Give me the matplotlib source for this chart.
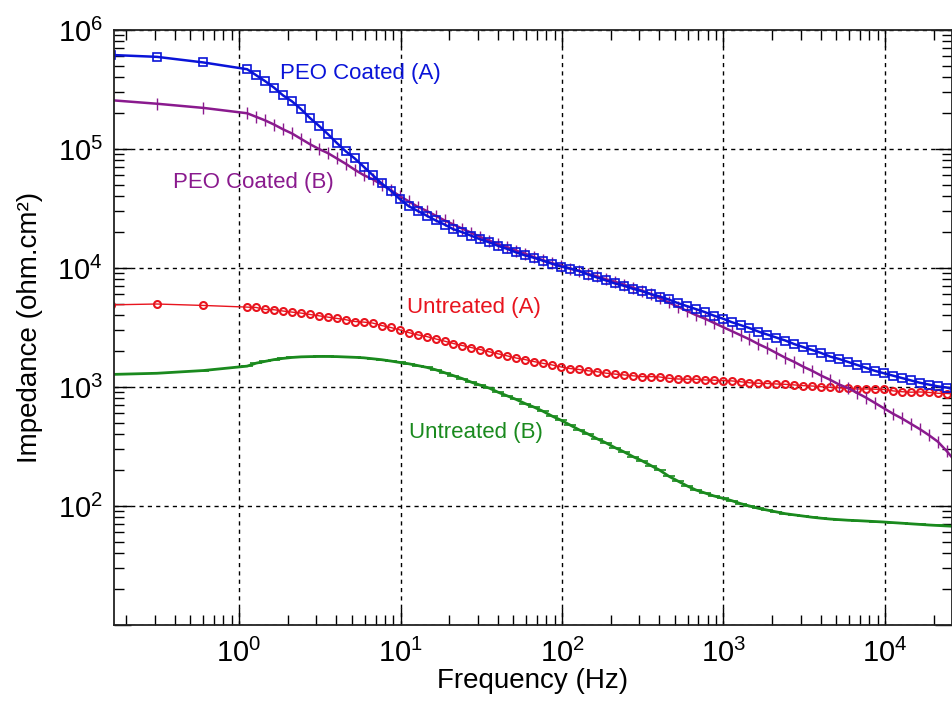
import numpy as np
import matplotlib
matplotlib.use('Agg')
import matplotlib.pyplot as plt
import matplotlib.ticker as mticker

plt.rcParams['font.family'] = ['Liberation Sans', 'DejaVu Sans']
plt.rcParams['mathtext.fontset'] = 'custom'
plt.rcParams['mathtext.rm'] = 'Liberation Sans'
plt.rcParams['mathtext.it'] = 'Liberation Sans'

# frequency sweep: 3 low points, then 18 points per decade from ~1.1 Hz
freq_low = [0.16, 0.31, 0.60]
sweep = [1.122, 1.275, 1.449, 1.647, 1.872, 2.127, 2.417, 2.747, 3.122,
         3.548, 4.033, 4.582, 5.208, 5.918, 6.726, 7.643, 8.687, 9.872]
freq = freq_low + [s * 10 ** d for d in range(4) for s in sweep] + [s * 1e4 for s in sweep[:8]]

# log10 |Z| (ohm.cm2)
peo_a = [5.79, 5.774, 5.727,
         5.67, 5.62, 5.57, 5.515, 5.45, 5.40, 5.335, 5.26, 5.195, 5.125, 5.05, 4.98, 4.92, 4.85, 4.78, 4.71, 4.65, 4.58,
         4.52, 4.48, 4.44, 4.40, 4.365, 4.325, 4.30, 4.27, 4.24, 4.215, 4.185, 4.16, 4.13, 4.105, 4.085, 4.06, 4.035, 4.012,
         3.995, 3.975, 3.945, 3.92, 3.895, 3.87, 3.85, 3.825, 3.805, 3.78, 3.76, 3.735, 3.705, 3.68, 3.655, 3.63, 3.60, 3.575,
         3.545, 3.52, 3.495, 3.465, 3.44, 3.415, 3.39, 3.36, 3.335, 3.31, 3.285, 3.255, 3.235, 3.21, 3.185, 3.16, 3.135, 3.115,
         3.095, 3.075, 3.055, 3.035, 3.02, 3.005, 2.995, 2.975]
peo_b = [5.41, 5.38, 5.345,
         5.30, 5.27, 5.24, 5.205, 5.165, 5.13, 5.085, 5.04, 5.00, 4.965, 4.92, 4.875, 4.825, 4.78, 4.745, 4.70, 4.655, 4.605,
         4.56, 4.515, 4.48, 4.44, 4.40, 4.365, 4.33, 4.295, 4.26, 4.23, 4.20, 4.175, 4.145, 4.12, 4.09, 4.065, 4.04, 4.02,
         3.995, 3.975, 3.95, 3.93, 3.905, 3.885, 3.86, 3.835, 3.81, 3.78, 3.745, 3.71, 3.675, 3.64, 3.605, 3.575, 3.54, 3.505,
         3.47, 3.435, 3.40, 3.36, 3.325, 3.285, 3.245, 3.21, 3.17, 3.135, 3.095, 3.06, 3.02, 2.99, 2.95, 2.91, 2.865, 2.82,
         2.775, 2.735, 2.69, 2.645, 2.595, 2.54, 2.46, 2.37]
untr_a = [3.69, 3.697, 3.685,
          3.671, 3.668, 3.651, 3.649, 3.638, 3.629, 3.621, 3.609, 3.598, 3.587, 3.576, 3.565, 3.55, 3.545, 3.537, 3.516, 3.50, 3.48,
          3.457, 3.438, 3.424, 3.404, 3.385, 3.365, 3.348, 3.331, 3.314, 3.295, 3.278, 3.261, 3.243, 3.23, 3.213, 3.198, 3.185, 3.168,
          3.155, 3.147, 3.136, 3.128, 3.116, 3.108, 3.101, 3.094, 3.087, 3.087, 3.084, 3.073, 3.067, 3.065, 3.065, 3.059, 3.057, 3.053,
          3.051, 3.044, 3.035, 3.031, 3.029, 3.025, 3.022, 3.017, 3.011, 3.008, 3.002, 2.997, 2.993, 2.988, 2.983, 2.983, 2.981, 2.979,
          2.967, 2.96, 2.956, 2.958, 2.954, 2.947, 2.945, 2.941]
untr_b = [3.105, 3.115, 3.138,
          3.175, 3.20, 3.215, 3.23, 3.24, 3.248, 3.253, 3.255, 3.256, 3.256, 3.255, 3.252, 3.249, 3.245, 3.237, 3.229, 3.218, 3.206,
          3.195, 3.18, 3.165, 3.145, 3.12, 3.095, 3.07, 3.04, 3.015, 2.99, 2.955, 2.925, 2.895, 2.86, 2.83, 2.795, 2.755, 2.72,
          2.68, 2.64, 2.605, 2.565, 2.53, 2.49, 2.455, 2.415, 2.38, 2.34, 2.30, 2.25, 2.21, 2.17, 2.135, 2.11, 2.085, 2.065,
          2.045, 2.02, 2.00, 1.98, 1.965, 1.95, 1.935, 1.925, 1.915, 1.905, 1.897, 1.89, 1.885, 1.88, 1.877, 1.873, 1.869, 1.865,
          1.86, 1.855, 1.85, 1.845, 1.84, 1.836, 1.832, 1.828]

c_blue = '#0a14d8'
c_purple = '#8a1a8e'
c_red = '#e8141e'
c_green = '#1a8a1e'

fig = plt.figure(figsize=(9.53, 7.03), dpi=100)
ax = fig.add_axes([0.1196, 0.111, 0.8793, 0.8464])

f = np.array(freq)
ax.plot(f, 10 ** np.array(untr_b), color=c_green, lw=2, marker='_', ms=8, mew=1.2)
ax.plot(f, 10 ** np.array(untr_a), color=c_red, lw=1, marker='o', ms=5, mfc='none', mew=1.5)
ax.plot(f, 10 ** np.array(peo_b), color=c_purple, lw=1.8, marker='|', ms=8, mew=1)
ax.plot(f, 10 ** np.array(peo_a), color=c_blue, lw=1.8, marker='s', ms=6, mfc='none', mew=1.2)

ax.set_xscale('log')
ax.set_yscale('log')
ax.set_xlim(0.168, 2.6e4)
ax.set_ylim(10, 1e6)

ax.grid(True, which='major', color='k', ls=(0, (3, 3)), lw=1)

def xfmt(v, pos):
    return r'$\mathregular{10^{%d}}$' % int(round(np.log10(v)))

def yfmt(v, pos):
    if v <= 10.5:
        return ''
    return r'$\mathregular{10^{%d}}$' % int(round(np.log10(v)))

ax.xaxis.set_major_formatter(mticker.FuncFormatter(xfmt))
ax.yaxis.set_major_formatter(mticker.FuncFormatter(yfmt))
ax.xaxis.set_minor_locator(mticker.LogLocator(base=10, subs=np.arange(2, 10), numticks=20))
ax.yaxis.set_minor_locator(mticker.LogLocator(base=10, subs=np.arange(2, 10), numticks=20))
ax.xaxis.set_minor_formatter(mticker.NullFormatter())
ax.yaxis.set_minor_formatter(mticker.NullFormatter())

ax.tick_params(which='both', direction='in', top=True, right=True, labelsize=21, width=1)
ax.tick_params(which='major', length=12)
ax.tick_params(which='minor', length=7)
ax.tick_params(axis='x', pad=10)
ax.tick_params(axis='y', pad=8)
for s in ax.spines.values():
    s.set_linewidth(1.3)
    s.set_color('#222222')

ax.set_xlabel('Frequency (Hz)', fontsize=20, labelpad=0)
ax.set_ylabel('Impedance (ohm.cm²)', fontsize=20)
ax.yaxis.set_label_coords(-0.085, 0.5)

ax.text(1.79, 4.34e5, 'PEO Coated (A)', color=c_blue, fontsize=16, va='center')
ax.text(0.39, 5.24e4, 'PEO Coated (B)', color=c_purple, fontsize=16, va='center')
ax.text(10.97, 4.66e3, 'Untreated (A)', color=c_red, fontsize=16, va='center')
ax.text(11.3, 412, 'Untreated (B)', color=c_green, fontsize=16, va='center')

fig.savefig('out.png', dpi=100)
